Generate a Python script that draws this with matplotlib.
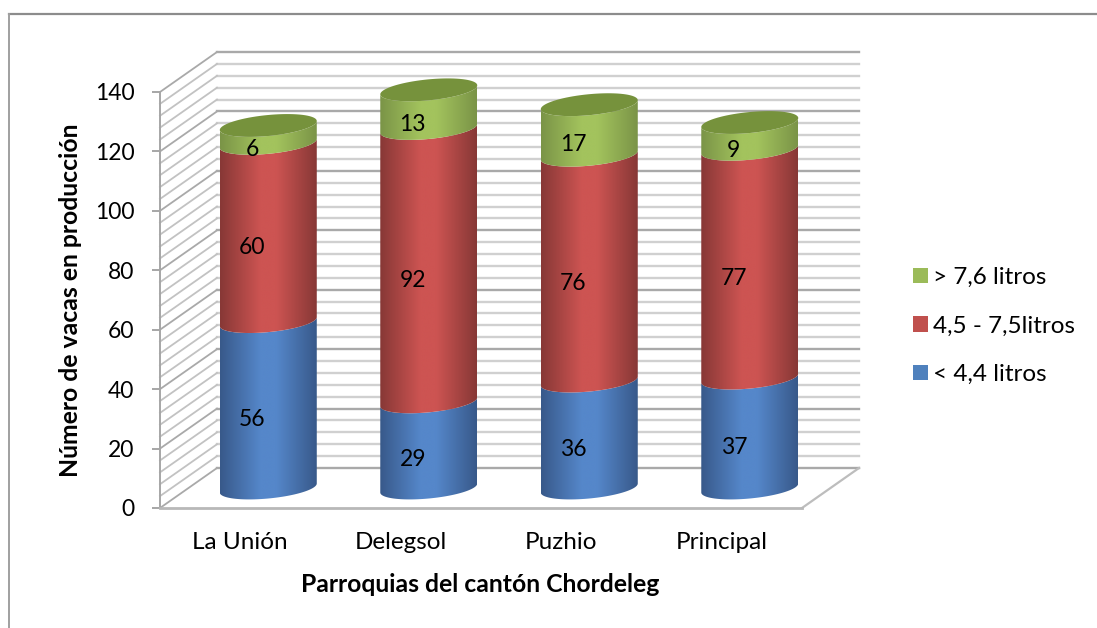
#!/usr/bin/env python3
# vacas en produccion por parroquia, cilindros apilados con paredes en perspectiva
import matplotlib
matplotlib.use('Agg')
import matplotlib.pyplot as plt
from matplotlib.lines import Line2D
from matplotlib.patches import Patch, Polygon
import numpy as np

plt.rcParams['font.family'] = ['Lato', 'DejaVu Sans']

####################DATA##############################
parroquias = ['La Unión', 'Delegsol', 'Puzhio', 'Principal']
menos44 = [56, 29, 36, 37]
entre45y75 = [60, 92, 76, 77]
mas76 = [6, 13, 17, 9]
serieNames = ['< 4,4 litros', '4,5 - 7,5litros', '> 7,6 litros']
yTicks = [0, 20, 40, 60, 80, 100, 120, 140]
##################END DATA############################

####################CONSTANTS#########################
FIG_W = 1097
FIG_H = 628
PX_X = 642 / 4      # pixels per category
PX_Y = 416 / 140    # pixels per cow
DEPTH_X = 57 / PX_X
DEPTH_Y = 40 / PX_Y
RADIUS = 48.5 / PX_X
TILT = 4.5 / PX_Y
MINOR_AXIS = 10.5 / PX_Y
NUM_SIZE = 16.5
TEXT_SIZE = 17.5
TITLE_SIZE = 17.8
# edge colour, centre colour
BLUE = ('#38598a', '#5587ca')
RED = ('#873836', '#cd5452')
GREEN = ('#7a9447', '#a3c35d')
TOP_GREEN = '#76923c'
##################END CONSTANTS#######################


def gradient(shades):
	# dark at both edges of the cylinder, flat light band in the middle
	pos = np.linspace(0, 1, 200)
	edge = np.array(matplotlib.colors.to_rgb(shades[0]))
	mid = np.array(matplotlib.colors.to_rgb(shades[1]))
	row = [np.interp(pos, [0, 0.42, 0.58, 1], [edge[c], mid[c], mid[c], edge[c]]) for c in range(3)]
	return np.dstack(row)


def arc(cx, level, start, stop):
	t = np.linspace(start, stop, 80)
	xs = cx + RADIUS * np.cos(t)
	ys = level + TILT * np.cos(t) + MINOR_AXIS * np.sin(t)
	return np.column_stack([xs, ys])


def drawSegment(ax, cx, low, high, shades):
	# front side of one slice: lower rim one way, upper rim back
	outline = np.vstack([arc(cx, low, np.pi, 2 * np.pi), arc(cx, high, 2 * np.pi, np.pi)])
	shape = Polygon(outline, closed=True, facecolor='none', edgecolor='none', clip_on=False, zorder=3)
	ax.add_patch(shape)
	img = ax.imshow(gradient(shades), extent=[cx - RADIUS, cx + RADIUS, low - 6, high + 6],
		aspect='auto', interpolation='bilinear', zorder=3)
	# the tallest cylinder pokes out above the axes box
	img.set_clip_box(fig.bbox)
	img.set_clip_path(shape)


def drawWalls(ax):
	for v in range(0, 141, 4):
		major = v % 20 == 0
		color = '#a9a9a9' if major else '#d0d0d0'
		ax.plot([DEPTH_X, 4 + DEPTH_X], [v + DEPTH_Y, v + DEPTH_Y], color=color, lw=1.7, clip_on=False, zorder=1)
		ax.plot([0, DEPTH_X], [v, v + DEPTH_Y], color='#a9a9a9' if major else '#c2c2c2', lw=1.3, clip_on=False, zorder=1)
	ax.plot([4, 4 + DEPTH_X], [0, DEPTH_Y], color='#bdbdbd', lw=1.6, clip_on=False, zorder=1)


fig = plt.figure(figsize=(FIG_W / 100, FIG_H / 100), dpi=100)
ax = fig.add_axes([160 / FIG_W, (FIG_H - 508) / FIG_H, 642 / FIG_W, 416 / FIG_H])
ax.set_xlim(0, 4)
ax.set_ylim(0, 140)
ax.set_autoscale_on(False)
ax.patch.set_visible(False)

drawWalls(ax)

series = [(menos44, BLUE), (entre45y75, RED), (mas76, GREEN)]
for i in range(len(parroquias)):
	cx = i + 0.497 + DEPTH_X / 2
	base = DEPTH_Y / 2
	total = 0
	for values, shades in series:
		v = values[i]
		drawSegment(ax, cx, base + total, base + total + v, shades)
		ax.text(i + 0.575, total + v / 2 + 1.7, str(v), ha='center', va='center',
			fontsize=NUM_SIZE, color='black', zorder=10)
		total += v
	top = arc(cx, base + total, 0, 2 * np.pi)
	ax.add_patch(Polygon(top, closed=True, facecolor=TOP_GREEN, edgecolor='none', clip_on=False, zorder=4))

for side in ['top', 'right']:
	ax.spines[side].set_visible(False)
ax.spines['left'].set_color('#a6a6a6')
ax.spines['left'].set_linewidth(1.4)
ax.spines['bottom'].set_color('#b8b8b8')
ax.spines['bottom'].set_linewidth(2)

ax.set_yticks(yTicks)
ax.set_xticks([i + 0.5 for i in range(len(parroquias))])
ax.set_xticklabels(parroquias)
ax.tick_params(axis='y', length=6, width=1.4, color='#a6a6a6', pad=12.5, labelsize=NUM_SIZE)
ax.tick_params(axis='x', length=0, pad=17, labelsize=TEXT_SIZE)

ax.set_xlabel('Parroquias del cantón Chordeleg', fontsize=TITLE_SIZE, fontweight='bold')
ax.set_ylabel('Número de vacas en producción', fontsize=TITLE_SIZE, fontweight='bold')
ax.xaxis.set_label_coords((480 - 160) / 642, -(573 - 508) / 416)
ax.yaxis.set_label_coords((82 - 160) / 642, (508 - 300) / 416)

handles = [Patch(facecolor='#9bbb59', label=serieNames[2]),
	Patch(facecolor='#c0504d', label=serieNames[1]),
	Patch(facecolor='#4f81bd', label=serieNames[0])]
fig.legend(handles=handles, loc='center left', bbox_to_anchor=(901 / FIG_W, 1 - 326 / FIG_H),
	frameon=False, fontsize=TEXT_SIZE, handlelength=0.62, handleheight=0.62,
	handletextpad=0.2, labelspacing=1.13, borderpad=0)

# chart frame, only the top and left sides reach the image
fig.add_artist(Line2D([9 / FIG_W, 1], [1 - 14 / FIG_H, 1 - 14 / FIG_H], color='#8c8c8c', lw=1.6))
fig.add_artist(Line2D([9 / FIG_W, 9 / FIG_W], [1 - 14 / FIG_H, 0], color='#a0a0a0', lw=1.4))

plt.savefig('out.png', dpi=100)
